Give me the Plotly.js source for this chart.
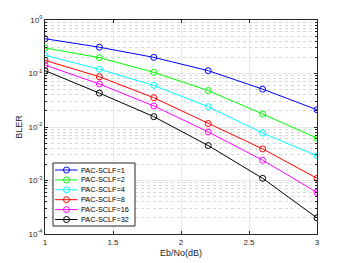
<!DOCTYPE html>
<html><head><meta charset="utf-8">
<script src="https://cdn.plot.ly/plotly-3.0.1.min.js"></script>
<style>html,body{margin:0;padding:0;background:#fff}#c{width:350px;height:263px}</style>
</head><body><div id="c"></div>
<script>
const ebno = [1, 1.4, 1.8, 2.2, 2.6, 3];
const names = ["PAC-SCLF=1","PAC-SCLF=2","PAC-SCLF=4","PAC-SCLF=8","PAC-SCLF=16","PAC-SCLF=32"];
const bler1  = [0.447, 0.31, 0.20, 0.113, 0.051, 0.021];
const bler2  = [0.30, 0.198, 0.105, 0.048, 0.0175, 0.0062];
const bler4  = [0.219, 0.12, 0.060, 0.024, 0.0077, 0.0029];
const bler8  = [0.176, 0.087, 0.0353, 0.0116, 0.0039, 0.0011];
const bler16 = [0.144, 0.0637, 0.0247, 0.0081, 0.0024, 0.0006];
const bler32 = [0.113, 0.043, 0.0156, 0.0045, 0.0011, 0.0002];
const yTickVals = [1e-4, 1e-3, 1e-2, 1e-1, 1];
const yTickText = ["10<sup>-4</sup>","10<sup>-3</sup>","10<sup>-2</sup>","10<sup>-1</sup>","10<sup>0</sup>"];
const series = [bler1, bler2, bler4, bler8, bler16, bler32];
const colors = ["#0000ff","#00ff00","#00ffff","#ff0000","#ff00ff","#000000"];
const font = "Liberation Sans, Arial, sans-serif";
const traces = series.map((s,i)=>({
  x: ebno, y: s, name: names[i], type: "scatter", mode: "lines+markers",
  line: {color: colors[i], width: 1},
  marker: {symbol: "circle-open", size: 6, color: colors[i], line: {width: 1, color: colors[i]}}
}));

// custom compact legend (MATLAB style)
const PL = 45, PW = 272, PB = 234, PH = 214;
const px = v => (v - PL) / PW;
const py = v => (PB - v) / PH;
const shapes = [{type: "rect", xref: "paper", yref: "paper", x0: px(53), x1: px(135), y0: py(226), y1: py(163),
  fillcolor: "#fff", line: {color: "#262626", width: 1}, layer: "above"}];
const annotations = [];
names.forEach((n,i)=>{
  const yy = py(170 + 9.9*i);
  shapes.push({type: "line", xref: "paper", yref: "paper", x0: px(55), x1: px(77.5), y0: yy, y1: yy,
    line: {color: colors[i], width: 1}, layer: "above"});
  shapes.push({type: "circle", xref: "paper", yref: "paper", xsizemode: "pixel", ysizemode: "pixel",
    xanchor: px(66.5), yanchor: yy, x0: -3, x1: 3, y0: -3, y1: 3,
    line: {color: colors[i], width: 1}, fillcolor: "rgba(0,0,0,0)", layer: "above"});
  annotations.push({xref: "paper", yref: "paper", x: px(80), y: yy, xanchor: "left", yanchor: "middle",
    text: n, showarrow: false, borderpad: 0, font: {family: font, size: 7.3, color: "#000"}});
});

const layout = {
  width: 350, height: 263,
  margin: {l: 45, r: 33, t: 20, b: 29},
  paper_bgcolor: "#fff", plot_bgcolor: "#fff",
  font: {family: font, size: 8, color: "#262626"},
  showlegend: false,
  shapes: shapes, annotations: annotations,
  xaxis: {range: [1, 3], dtick: 0.5, tick0: 1, showline: true, mirror: "allticks",
    linecolor: "#262626", linewidth: 1, ticks: "inside", ticklen: 3, tickcolor: "#262626",
    showgrid: true, gridcolor: "#e6e6e6", zeroline: false,
    title: {text: "Eb/No(dB)", font: {family: font, size: 9, color: "#262626"}, standoff: 4}},
  yaxis: {type: "log", range: [-4, 0], tickmode: "array", tickvals: yTickVals, ticktext: yTickText,
    showline: true, mirror: "allticks", linecolor: "#262626", linewidth: 1,
    ticks: "inside", ticklen: 3, tickcolor: "#262626",
    showgrid: true, gridcolor: "#e6e6e6", zeroline: false,
    minor: {dtick: "D1", ticks: "inside", ticklen: 2, tickcolor: "#262626", showgrid: true, gridcolor: "#d8d8d8", griddash: "dot"},
    title: {text: "BLER", font: {family: font, size: 9, color: "#262626"}, standoff: 4}}
};
Plotly.newPlot("c", traces, layout, {staticPlot: true, displayModeBar: false});
</script></body></html>
